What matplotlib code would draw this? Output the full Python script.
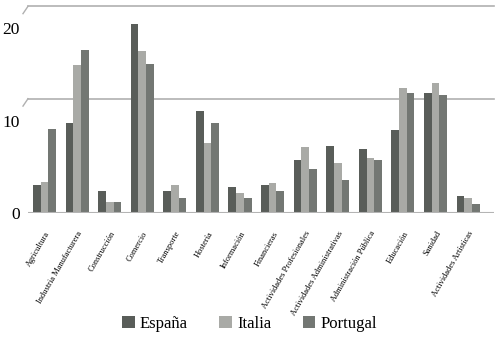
import numpy as np
import matplotlib
matplotlib.use('Agg')
import matplotlib.pyplot as plt
import matplotlib.transforms as mtransforms

# Datos por sector (%)
sectores = ['Agricultura', 'Industria Manufacturera', 'Construcción', 'Comercio',
            'Transporte', 'Hostería', 'Información', 'Financieras',
            'Actividades Profesionales', 'Actividades Administrativas',
            'Administración Pública', 'Educación', 'Sanidad', 'Actividades Artísticas']
espana = [3.0, 9.8, 2.4, 20.5, 2.4, 11.1, 2.8, 3.0, 5.7, 7.3, 6.9, 9.0, 13.0, 1.9]
italia = [3.4, 16.0, 1.2, 17.5, 3.0, 7.6, 2.2, 3.3, 7.1, 5.4, 6.0, 13.5, 14.1, 1.6]
portugal = [9.1, 17.7, 1.2, 16.1, 1.6, 9.8, 1.6, 2.4, 4.8, 3.6, 5.7, 13.0, 12.8, 1.0]
paises = ['España', 'Italia', 'Portugal']
colores = ['#595d59', '#a9aaa6', '#737773']
yticks = [0, 10, 20]

plt.rcParams['font.family'] = ['Liberation Serif', 'DejaVu Serif']

fig = plt.figure(figsize=(5.02, 3.54), dpi=100)
ax = fig.add_axes([0.0558, 0.398, 0.928, 0.59])

x = np.arange(len(sectores))
w = 0.236
for k, (serie, c, nombre) in enumerate(zip([espana, italia, portugal], colores, paises)):
    ax.bar(x + (k - 1) * w, serie, width=w, color=c, label=nombre, zorder=3)

ax.set_xlim(-0.506, 13.79)
ax.set_ylim(0, 22.6)

# lineas de cuadricula desplazadas (efecto 3D)
desp = mtransforms.ScaledTranslation(0, 22 / 100, fig.dpi_scale_trans)
for v in yticks[1:]:
    ax.plot([0, 1], [v, v], color='#b0b0b0', lw=1.2,
            transform=ax.get_yaxis_transform() + desp, clip_on=False, zorder=1)
    ax.plot([-0.66, -0.506], [v - 0.8, v], color='#b0b0b0', lw=1.0,
            transform=ax.transData + desp, clip_on=False, zorder=1)
ax.axhline(0, color='#b4b4b4', lw=1.5, zorder=4)

for s in ax.spines.values():
    s.set_visible(False)
ax.set_yticks(yticks)
ax.set_yticklabels([str(v) for v in yticks], fontsize=12.5)
ax.tick_params(axis='y', length=0, pad=6)
ax.set_xticks(x)
ax.set_xticklabels(sectores, rotation=60, ha='right', va='top', fontsize=6.0,
                   rotation_mode='anchor')
ax.tick_params(axis='x', length=0, pad=12)

fig.legend(loc='center', bbox_to_anchor=(0.497, 0.086), ncol=3, frameon=False,
           fontsize=12, handlelength=0.75, handleheight=0.75, handletextpad=0.3,
           columnspacing=1.9)

plt.savefig('out.png', dpi=100)
